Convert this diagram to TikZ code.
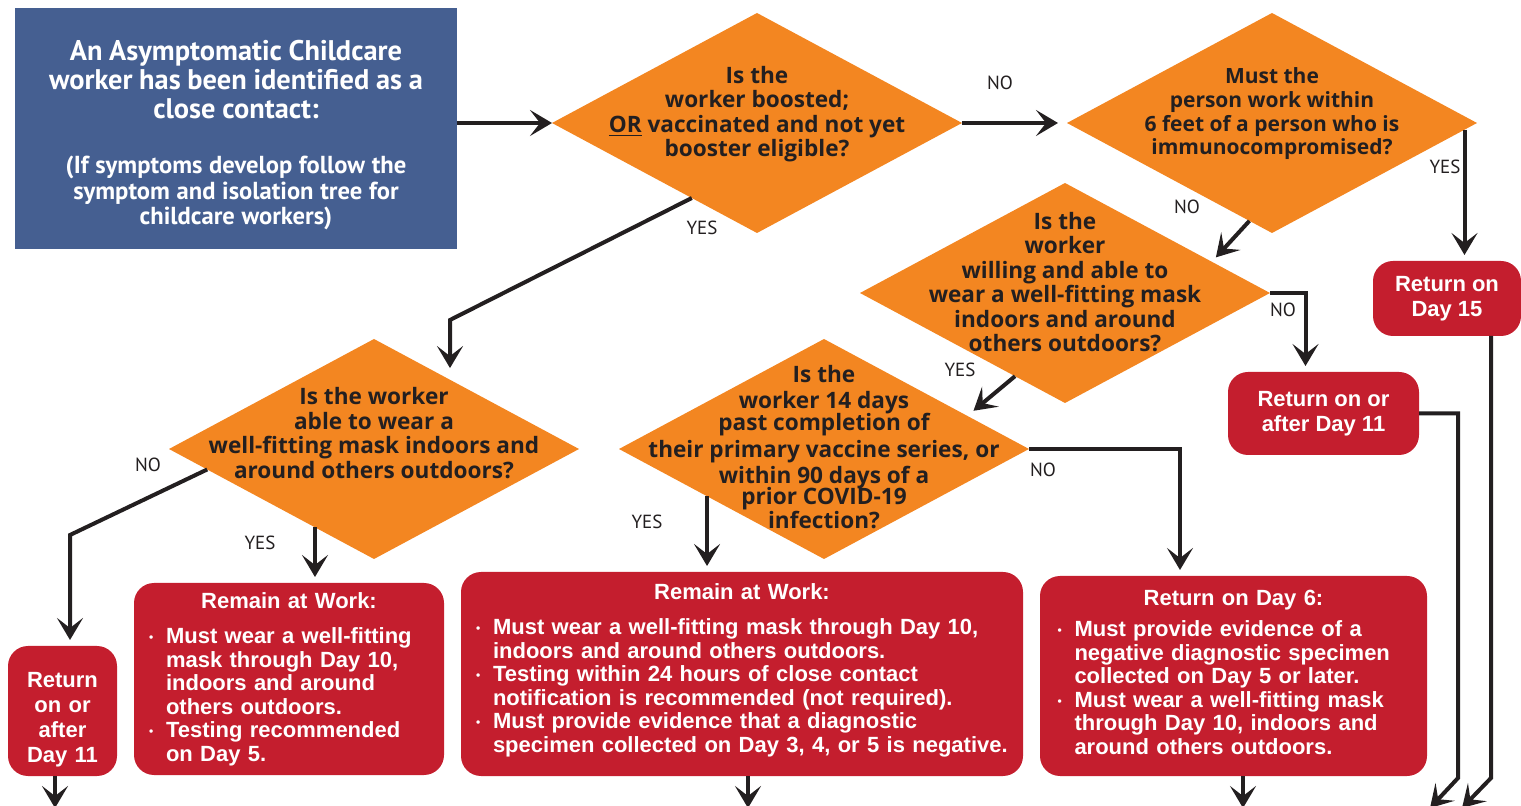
\documentclass[tikz,border=0pt]{standalone}
\usepackage{fontspec}
\setmainfont{PT Sans}
\newfontfamily\boxfont{Liberation Sans}
\newfontfamily\askfont{Open Sans}
\usetikzlibrary{shapes.geometric, arrows.meta}

\definecolor{qblue}{RGB}{69,95,145}
\definecolor{qorange}{RGB}{243,134,33}
\definecolor{qred}{RGB}{196,30,46}
\definecolor{qdark}{RGB}{35,31,32}

\newcommand{\bitem}{\makebox[8.5pt][l]{\raisebox{1pt}{\fontsize{6}{6}\selectfont\textbullet}}}
\newcommand{\bcont}{\hspace*{8.5pt}}

\begin{document}
\begin{tikzpicture}[x=0.5pt, y=-0.5pt]

        \tikzstyle{start} = [rectangle, fill=qblue, text=white, font=\bfseries, align=center, text width=215pt, minimum width=221pt, minimum height=120.5pt, inner sep=0pt]
        \tikzstyle{decision} = [diamond, fill=qorange, inner sep=0pt, outer sep=0pt, minimum width=205pt, minimum height=110pt]
        \tikzstyle{question} = [text=qdark, align=center, font=\askfont\bfseries\fontsize{11.3}{12.2}\selectfont]
        \tikzstyle{outcome} = [rectangle, rounded corners=10pt, fill=qred, text=white, inner sep=0pt, outer sep=0pt, font=\boxfont\bfseries\fontsize{11}{11.75}\selectfont]
        \tikzstyle{result} = [outcome, align=center, font=\boxfont\bfseries\fontsize{11}{12.5}\selectfont]
        \tikzstyle{steps} = [outcome, align=left]
        \tikzstyle{answer} = [text=qdark, font=\fontsize{9.5}{11}\selectfont]
        \tikzstyle{arrow} = [line width=2pt, draw=qdark, -{Stealth[length=11pt, width=13pt, inset=5pt]}]

        \useasboundingbox (0,0) rectangle (1521,806);

        \node (contact) [start] at (236,128.5) {{\fontsize{14.2}{14.5}\selectfont \rule{0pt}{16.5pt}An Asymptomatic Childcare\\ worker has been identified as a\\ close contact:\par}\vspace{15pt}{\fontsize{12.3}{12.75}\selectfont (If symptoms develop follow the\\ symptom and isolation tree for\\ childcare workers)\par}};

        % Questions
        \node (q1) [decision, label={[question, yshift=4.5pt]center:{Is the\\worker boosted;\\\underline{OR} vaccinated and not yet\\booster eligible?}}] at (757,123) {};
        \node (q2) [decision, label={[question, font=\askfont\bfseries\fontsize{10.5}{11.85}\selectfont, yshift=4.5pt]center:{Must the\\person work within\\6 feet of a person who is\\immunocompromised?}}] at (1272,123) {};
        \node (q3) [decision, label={[question, yshift=5.5pt]center:{Is the\\worker\\willing and able to\\wear a well-fitting mask\\indoors and around\\others outdoors?}}] at (1065,293) {};
        \node (q4) [decision, label={[question, yshift=8pt]center:{Is the worker\\able to wear a\\well-fitting mask indoors and\\around others outdoors?}}] at (374,449) {};
        \node (q5) [decision, label={[question, yshift=1pt]center:{Is the\\[1pt]worker 14 days\\[-1.5pt]past completion of\\[1.5pt]their primary vaccine series, or\\[1pt]within 90 days of a\\[-2pt]prior COVID-19\\infection?}}] at (824,449) {};

        % Outcomes
        \node (r15) [result, minimum width=74pt, minimum height=37.5pt] at (1447,298.5) {Return on\\Day 15};
        \node (r11a) [result, minimum width=95.5pt, minimum height=41.5pt] at (1323.5,413.5) {Return on or\\after Day 11};
        \node (r11b) [result, text width=52pt, minimum width=54.5pt, minimum height=65pt] at (62.5,711) {\rule{0pt}{16pt}Return\\on or\\after\\Day 11};
        \node (rw1) [steps, text width=140pt, minimum width=155pt, minimum height=96pt] at (289,679) {\centerline{Remain at Work:}\vspace{6pt}
            \noindent\bitem Must wear a well-fitting\\
            \bcont mask through Day 10,\\
            \bcont indoors and around\\
            \bcont others outdoors.\\
            \bitem Testing recommended\\
            \bcont on Day 5.};
        \node (rw2) [steps, text width=266pt, minimum width=281pt, minimum height=102pt] at (742,674) {\centerline{Remain at Work:}\vspace{6pt}
            \noindent\bitem Must wear a well-fitting mask through Day 10,\\
            \bcont indoors and around others outdoors.\\
            \bitem Testing within 24 hours of close contact\\
            \bcont notification is recommended (not required).\\
            \bitem Must provide evidence that a diagnostic\\
            \bcont specimen collected on Day 3, 4, or 5 is negative.\rule[-6.3pt]{0pt}{0pt}};
        \node (rd6) [steps, text width=176pt, minimum width=193.5pt, minimum height=100pt] at (1233.5,676) {\centerline{Return on Day 6:}\vspace{4pt}
            \noindent\bitem Must provide evidence of a\\
            \bcont negative diagnostic specimen\\
            \bcont collected on Day 5 or later.\\
            \bitem Must wear a well-fitting mask\\
            \bcont through Day 10, indoors and\\
            \bcont around others outdoors.\rule[-4pt]{0pt}{0pt}};

        % Bends and exits
        \coordinate (bend1) at (450,320);
        \coordinate (bend2) at (70,535);
        \coordinate (bend3) at (1458,778);
        \coordinate (bend4) at (1491,778);
        \coordinate (out1) at (55,808);
        \coordinate (out2) at (748,808);
        \coordinate (out3) at (1243,808);
        \coordinate (out4) at (1430,808);
        \coordinate (out5) at (1462,808);

        % Arrows
        \draw [arrow] (contact.east |- q1.west) -- (q1.west);
        \draw [arrow, shorten >=4.5pt] (q1.east) -- (q2.west);
        \draw [arrow, shorten >=6pt] (q1.229) -- (bend1) -- (bend1 |- q4.42);
        \draw [arrow, shorten >=3pt] (q2.257) -- (q3.12);
        \draw [arrow, shorten >=3pt] (q2.-2) -- (q2.-2 |- r15.north);
        \draw [arrow, shorten >=4pt] (q3.239) -- (q5.13);
        \draw [arrow, shorten >=3pt] (q3.east) -| ([xshift=-9pt]r11a.north);
        \draw [arrow, shorten >=3pt] (q4.187) -- (bend2) -- (bend2 |- r11b.north);
        \draw [arrow, shorten >=3pt] (q4.233) -- (q4.233 |- rw1.north);
        \draw [arrow, shorten >=3pt] (q5.202) -- (q5.202 |- rw2.north);
        \draw [arrow, shorten >=3pt] (q5.east) -| ([xshift=-26.75pt]rd6.north);
        \draw [arrow] (r11b.south -| out1) -- (out1);
        \draw [arrow] (rw2.south -| out2) -- (out2);
        \draw [arrow] (rd6.south -| out3) -- (out3);
        \draw [arrow] (r11a.east) -| (bend3) -- (out4);
        \draw [arrow] (r15.south -| bend4) -- (bend4) -- (out5);

        % Answers
        \node (a1) [answer] at (1000,83) {NO};
        \node (a2) [answer] at (702,228) {YES};
        \node (a3) [answer] at (1187,207) {NO};
        \node (a4) [answer] at (1445,167) {YES};
        \node (a5) [answer] at (1283,310) {NO};
        \node (a6) [answer] at (960,370) {YES};
        \node (a7) [answer] at (148,465) {NO};
        \node (a8) [answer] at (260,543) {YES};
        \node (a9) [answer] at (647,522) {YES};
        \node (a10) [answer] at (1043,470) {NO};

\end{tikzpicture}
\end{document}
